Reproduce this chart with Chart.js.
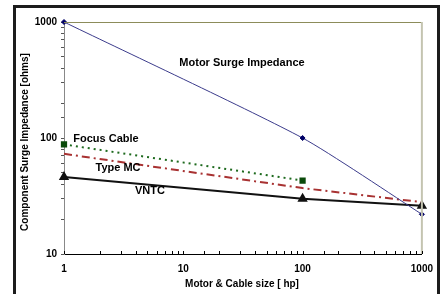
<!DOCTYPE html>
<html lang="en">
<head>
<meta charset="UTF-8">
<title>Component Surge Impedance</title>
<script src="https://cdn.jsdelivr.net/npm/chart.js"></script>
<style>
  html, body { margin: 0; padding: 0; background: #fff; }
  #c { display: block; }
</style>
</head>
<body>
<canvas id="c" width="442" height="294"></canvas>
<script>
// values (log-log)
const motorHp = [1, 100, 1000];
const motorSurge = [1000, 100, 22];
const focusHp = [1, 100];
const focusCable = [88, 43];
const typeMcHp = [1, 100, 1000];
const typeMc = [73, 37, 28];
const vntcHp = [1, 100, 1000];
const vntc = [46, 30, 26];

const xTickLabels = [1, 10, 100, 1000];
const yTickLabels = [10, 100, 1000];

const FONT = 'Liberation Sans, Arial, sans-serif';

function pts(xs, ys) {
  return xs.map((x, i) => ({ x: x, y: ys[i] }));
}

const decor = {
  id: 'decor',
  beforeDraw(chart) {
    const ctx = chart.ctx;
    ctx.save();
    ctx.fillStyle = '#fff';
    ctx.fillRect(0, 0, chart.width, chart.height);
    // outer frame
    ctx.strokeStyle = '#1c1c1c';
    ctx.lineWidth = 3;
    ctx.strokeRect(14.5, 6.5, 424, 300);
    ctx.restore();
  },
  afterDatasetsDraw(chart) {
    const ctx = chart.ctx;
    const a = chart.chartArea;
    const xs = chart.scales.x;
    ctx.save();
    // top and right plot borders
    ctx.strokeStyle = '#8c8c5a';
    ctx.lineWidth = 1;
    ctx.beginPath();
    ctx.moveTo(a.left, a.top + 0.5);
    ctx.lineTo(a.right, a.top + 0.5);
    ctx.stroke();
    ctx.strokeStyle = '#c4c4b0';
    ctx.lineWidth = 2;
    ctx.beginPath();
    ctx.moveTo(a.right, a.top);
    ctx.lineTo(a.right, a.bottom);
    ctx.stroke();
    // x ticks point up into the plot
    ctx.strokeStyle = '#000';
    ctx.lineWidth = 1;
    xs.ticks.forEach(t => {
      const px = Math.round(xs.getPixelForValue(t.value)) + 0.5;
      ctx.beginPath();
      ctx.moveTo(px, a.bottom);
      ctx.lineTo(px, a.bottom - 3);
      ctx.stroke();
    });
    // series labels
    ctx.fillStyle = '#000';
    ctx.font = 'bold 11px ' + FONT;
    ctx.textAlign = 'center';
    ctx.textBaseline = 'middle';
    ctx.fillText('Motor Surge Impedance', 242, 63);
    ctx.fillText('Focus Cable', 106, 139);
    ctx.fillText('Type MC', 118, 168);
    ctx.fillText('VNTC', 150, 191);
    // axis titles
    ctx.font = 'bold 10px ' + FONT;
    ctx.fillText('Motor & Cable size [ hp]', 242, 284);
    ctx.translate(25, 142);
    ctx.rotate(-Math.PI / 2);
    ctx.fillText('Component Surge Impedance [ohms]', 0, 0);
    ctx.restore();
  }
};

new Chart(document.getElementById('c'), {
  type: 'line',
  data: {
    datasets: [
      {
        label: 'Motor Surge Impedance',
        data: pts(motorHp, motorSurge),
        borderColor: '#3c3c8c',
        borderWidth: 1,
        tension: 0.2,
        clip: false,
        pointStyle: 'rectRot',
        pointRadius: 2.5,
        pointBackgroundColor: '#000066',
        pointBorderColor: '#000066'
      },
      {
        label: 'Focus Cable',
        data: pts(focusHp, focusCable),
        borderColor: '#1e6a1e',
        borderWidth: 2,
        borderDash: [2, 4],
        clip: false,
        pointStyle: 'rect',
        pointRadius: 3,
        pointBackgroundColor: '#0a4a0a',
        pointBorderColor: '#0a4a0a'
      },
      {
        label: 'Type MC',
        data: pts(typeMcHp, typeMc),
        borderColor: '#a83232',
        borderWidth: 2,
        borderDash: [8, 4, 2, 4],
        clip: false,
        pointRadius: 0
      },
      {
        label: 'VNTC',
        data: pts(vntcHp, vntc),
        borderColor: '#111',
        borderWidth: 2,
        clip: false,
        pointStyle: 'triangle',
        pointRadius: 4,
        pointBackgroundColor: '#111',
        pointBorderColor: '#111'
      }
    ]
  },
  options: {
    responsive: false,
    animation: false,
    events: [],
    layout: { padding: { left: 0, top: 22, right: 20, bottom: 0 } },
    plugins: { legend: { display: false }, tooltip: { enabled: false } },
    scales: {
      x: {
        type: 'logarithmic',
        min: 1,
        max: 1000,
        afterFit(s) { s.height = 40; },
        border: { color: '#000', width: 1 },
        grid: { display: true, drawOnChartArea: false, drawTicks: false },
        ticks: {
          padding: 9,
          autoSkip: false,
          maxRotation: 0,
          color: '#000',
          font: { family: FONT, size: 10, weight: 'bold' },
          callback: v => xTickLabels.includes(v) ? String(v) : ''
        }
      },
      y: {
        type: 'logarithmic',
        min: 10,
        max: 1000,
        afterFit(s) { s.width = 64; },
        border: { color: '#888', width: 1 },
        grid: { display: true, drawOnChartArea: false, tickLength: 3, color: '#555' },
        ticks: {
          padding: 4,
          autoSkip: false,
          color: '#000',
          font: { family: FONT, size: 10, weight: 'bold' },
          callback: v => yTickLabels.includes(v) ? String(v) : ''
        }
      }
    }
  },
  plugins: [decor]
});
</script>
</body>
</html>
